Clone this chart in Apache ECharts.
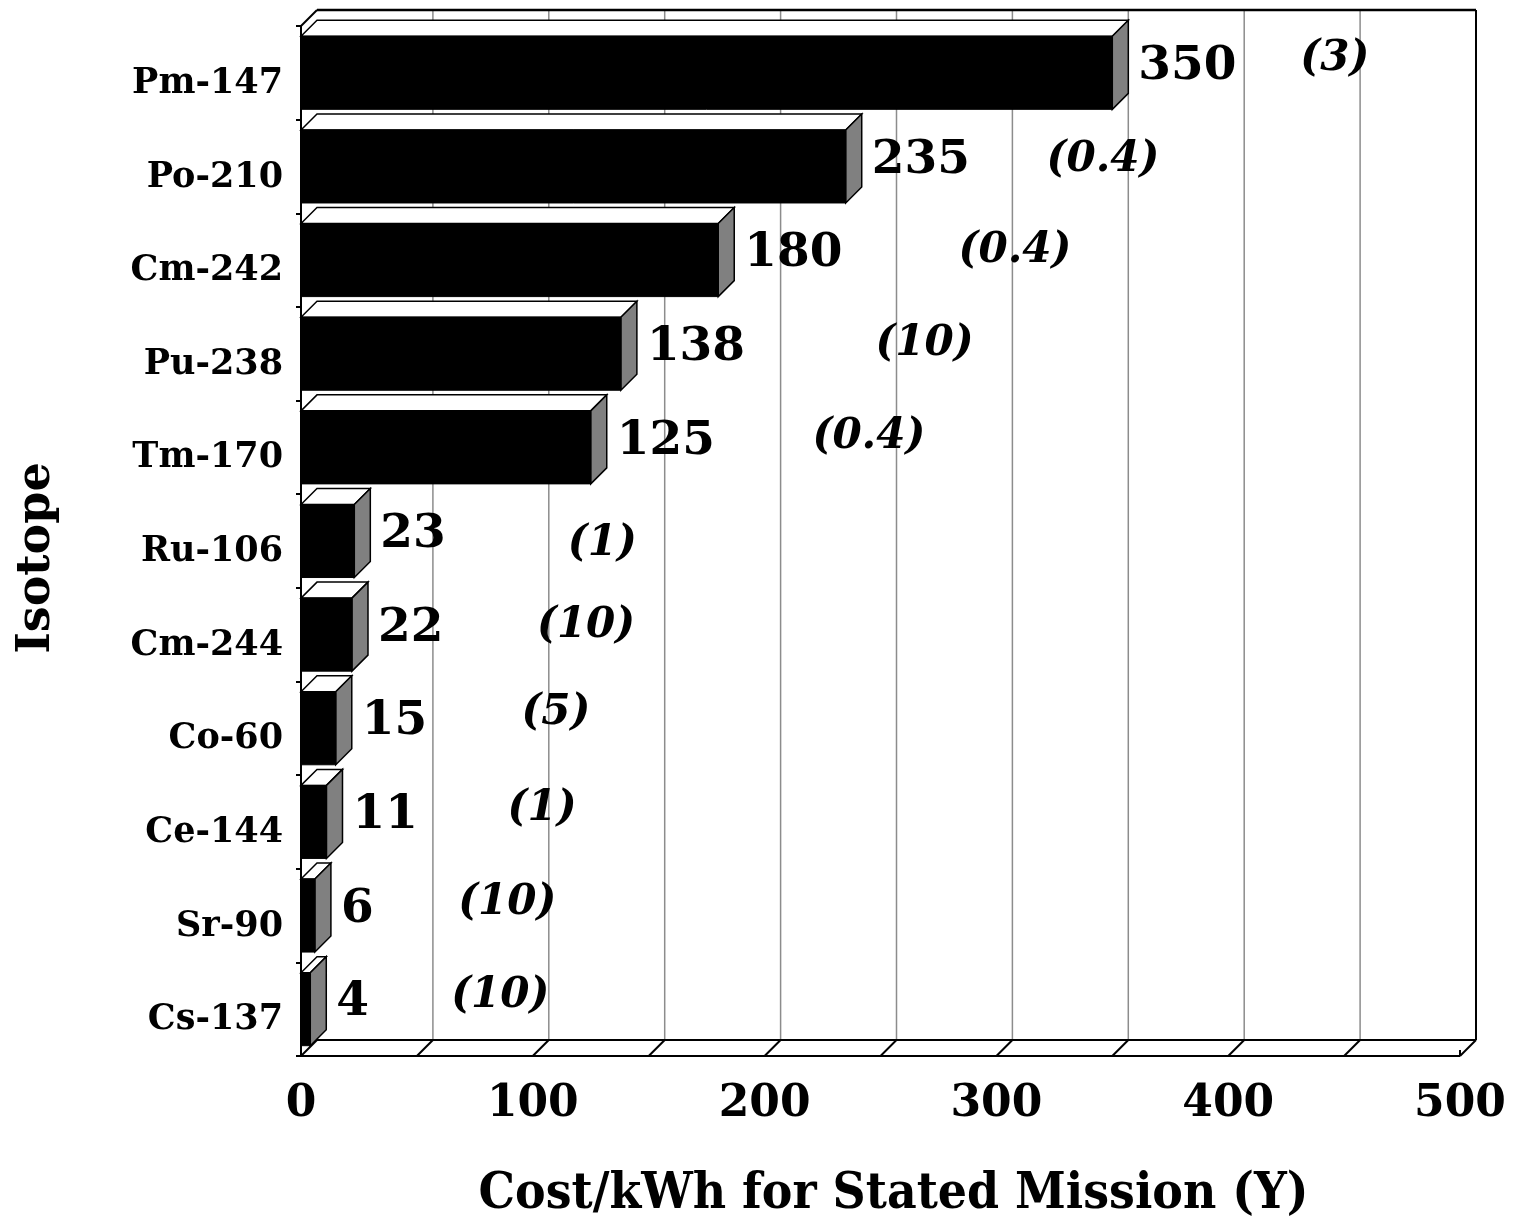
<!DOCTYPE html>
<html>
<head>
<meta charset="utf-8">
<title>Isotope cost per kWh</title>
<script src="https://cdn.jsdelivr.net/npm/echarts@6/dist/echarts.min.js"></script>
<style>
  html, body { margin: 0; padding: 0; background: #ffffff; }
  #chart { width: 1517px; height: 1217px; }
</style>
</head>
<body>
<div id="chart"></div>
<script>
// ---- data ----
const isotopes = ['Pm-147', 'Po-210', 'Cm-242', 'Pu-238', 'Tm-170', 'Ru-106', 'Cm-244', 'Co-60', 'Ce-144', 'Sr-90', 'Cs-137'];
const costPerKWh = [350, 235, 180, 138, 125, 23, 22, 15, 11, 6, 4];
const missionYears = ['3', '0.4', '0.4', '10', '0.4', '1', '10', '5', '1', '10', '10'];
const valueTicks = [0, 100, 200, 300, 400, 500];

// ---- layout ----
// where each mission-life note sits along the cost axis, and its vertical nudge (px)
const noteAt = [446, 346, 308, 269, 245, 130, 123, 110, 104, 89, 86];
const noteDy = [-14, -6, -9, -10, -10, 3, -9, -15, -13, -12, -13];
const DEPTH = 16;          // pseudo-3D depth offset (px, up and to the right)
const BAR_FILL = 0.78;     // share of a category band taken by the bar
const WALL_STEP = 50;      // spacing of back-wall grid lines and floor ticks
const SERIF = '"DejaVu Serif", serif';

const chart = echarts.init(document.getElementById('chart'), null, { renderer: 'canvas' });

const vMin = valueTicks[0];
const vMax = valueTicks[valueTicks.length - 1];
const wallVals = [];
for (let v = vMin; v <= vMax; v += WALL_STEP) wallVals.push(v);

// back wall, floor and left edge of the box
function renderFrame(params, api) {
  const cs = params.coordSys;
  const L = cs.x, T = cs.y, R = cs.x + cs.width, B = cs.y + cs.height;
  const d = DEPTH;
  const black = { stroke: '#000', lineWidth: 2 };
  const kids = [];
  // grid lines on the back wall
  wallVals.forEach(function (v) {
    if (v === vMin || v === vMax) return;
    const x = api.coord([v, 0])[0] + d;
    kids.push({ type: 'line', shape: { x1: x, y1: T - d, x2: x, y2: B - d },
      style: { stroke: '#8c8c8c', lineWidth: 1.5 } });
  });
  // floor: back edge + diagonal ticks
  kids.push({ type: 'line', shape: { x1: L + d, y1: B - d, x2: R + d, y2: B - d }, style: black });
  wallVals.forEach(function (v) {
    const x = api.coord([v, 0])[0];
    kids.push({ type: 'line', shape: { x1: x, y1: B, x2: x + d, y2: B - d }, style: black });
  });
  // back wall top and right borders
  kids.push({ type: 'line', shape: { x1: L + d, y1: T - d, x2: R + d, y2: T - d }, style: { stroke: '#000', lineWidth: 2.5 } });
  kids.push({ type: 'line', shape: { x1: R + d, y1: T - d, x2: R + d, y2: B - d }, style: black });
  // left plane top edge
  kids.push({ type: 'line', shape: { x1: L, y1: T, x2: L + d, y2: T - d }, style: black });
  // front bottom edge and front left edge
  kids.push({ type: 'line', shape: { x1: L - 5, y1: B, x2: R, y2: B }, style: black });
  kids.push({ type: 'line', shape: { x1: L, y1: T, x2: L, y2: B }, style: black });
  kids.push({ type: 'line', shape: { x1: R, y1: B, x2: R, y2: B - 6 }, style: black });
  return { type: 'group', children: kids };
}

// one pseudo-3D bar with its value label and mission-life note
function renderBar(params, api) {
  const i = api.value(0);
  const v = api.value(1);
  const p0 = api.coord([0, i]);
  const p1 = api.coord([v, i]);
  const band = api.size([0, 1])[1];
  const h = band * BAR_FILL;
  const yt = p1[1] - h / 2;
  const yb = yt + h;
  const x0 = p0[0], x1 = p1[0];
  const d = DEPTH;
  const edge = { stroke: '#000', lineWidth: 1.5, lineJoin: 'miter' };
  const kids = [
    { type: 'polygon', shape: { points: [[x0, yt], [x0 + d, yt - d], [x1 + d, yt - d], [x1, yt]] },
      style: Object.assign({ fill: '#ffffff' }, edge) },
    { type: 'polygon', shape: { points: [[x1, yt], [x1 + d, yt - d], [x1 + d, yb - d], [x1, yb]] },
      style: Object.assign({ fill: '#808080' }, edge) },
    { type: 'rect', shape: { x: x0, y: yt, width: x1 - x0, height: h },
      style: { fill: '#000', stroke: '#000', lineWidth: 1 } },
    { type: 'text', x: x1 + d + 10, y: (yt + yb) / 2 - 6,
      style: { text: String(costPerKWh[i]), font: 'bold 47px ' + SERIF, fill: '#000',
        align: 'left', verticalAlign: 'middle' } },
    { type: 'text', x: api.coord([noteAt[i], i])[0], y: p1[1] + noteDy[i],
      style: { text: '(' + missionYears[i] + ')', font: 'italic bold 42px ' + SERIF, fill: '#000',
        align: 'center', verticalAlign: 'middle' } }
  ];
  return { type: 'group', children: kids };
}

const option = {
  animation: false,
  backgroundColor: '#ffffff',
  grid: { left: 301, top: 26, width: 1159, height: 1030, containLabel: false, outerBoundsMode: 'none', show: false },
  xAxis: {
    type: 'value',
    min: vMin,
    max: vMax,
    interval: valueTicks[1] - valueTicks[0],
    axisLine: { show: false },
    axisTick: { show: false },
    splitLine: { show: false },
    axisLabel: {
      color: '#000', fontFamily: SERIF, fontWeight: 'bold', fontSize: 44, margin: 27,
      formatter: function (v) { return String(v); }
    },
    name: 'Cost/kWh for Stated Mission (Y)',
    nameLocation: 'middle',
    nameGap: 113,
    nameTextStyle: {
      color: '#000', fontFamily: '"DejaVu Serif Condensed", ' + SERIF, fontWeight: 'bold', fontSize: 51,
      padding: [0, 0, 0, 26]
    }
  },
  yAxis: {
    type: 'category',
    data: isotopes,
    inverse: true,
    axisLine: { show: false },
    axisTick: { show: true, length: 5, lineStyle: { color: '#000', width: 2 } },
    splitLine: { show: false },
    axisLabel: {
      color: '#000', fontFamily: SERIF, fontWeight: 'bold', fontSize: 35, margin: 18,
      verticalAlign: 'top', lineHeight: 22
    }
  },
  graphic: [
    { type: 'text', x: 37, y: 558, rotation: Math.PI / 2,
      style: { text: 'Isotope', font: 'bold 46px ' + SERIF, fill: '#000', align: 'center', verticalAlign: 'middle' } }
  ],
  series: [
    { type: 'custom', name: 'frame', renderItem: renderFrame, data: [[0, 0]], clip: false, z: 1, silent: true },
    { type: 'custom', name: 'cost', renderItem: renderBar,
      data: costPerKWh.map(function (v, i) { return [i, v]; }),
      encode: { x: 1, y: 0 }, clip: false, z: 2, silent: true }
  ]
};

chart.setOption(option);
</script>
</body>
</html>
